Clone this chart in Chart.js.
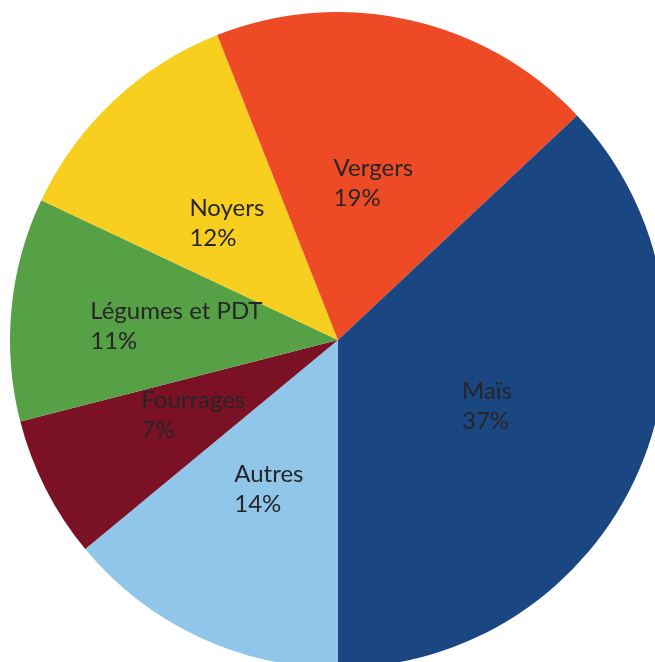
<!DOCTYPE html>
<html>
<head>
<meta charset="utf-8">
<script src="https://cdn.jsdelivr.net/npm/chart.js@4"></script>
<style>
  html, body { margin: 0; padding: 0; background: #ffffff; overflow: hidden; }
  #wrap { position: absolute; left: 0; top: 0; width: 676px; height: 680px; }
</style>
</head>
<body>
<div id="wrap"><canvas id="c" width="676" height="680"></canvas></div>
<script>
const categories = ["Autres", "Fourrages", "Légumes et PDT", "Noyers", "Vergers", "Maïs"];
const shares = [14, 7, 11, 12, 19, 37];
const percentLabels = ["14%", "7%", "11%", "12%", "19%", "37%"];
const colors = ["#8fc6ea", "#7b1124", "#56a046", "#f9cf1f", "#ee4a25", "#1a4682"];

const labelPlugin = {
  id: "sliceLabels",
  afterDatasetsDraw(chart) {
    const ctx = chart.ctx;
    const meta = chart.getDatasetMeta(0);
    ctx.save();
    ctx.font = "24px Lato, 'Open Sans', sans-serif";
    ctx.fillStyle = "#262626";
    ctx.textBaseline = "middle";
    ctx.textAlign = "left";
    meta.data.forEach((arc, i) => {
      const p = arc.getProps(["x", "y", "startAngle", "endAngle", "outerRadius"], true);
      const mid = (p.startAngle + p.endAngle) / 2;
      const r = p.outerRadius * 0.495;
      const cx = p.x + Math.cos(mid) * r;
      const cy = p.y + Math.sin(mid) * r;
      const l1 = categories[i], l2 = percentLabels[i];
      const w = Math.max(ctx.measureText(l1).width, ctx.measureText(l2).width);
      const left = cx - w / 2;
      ctx.fillText(l1, left, cy - 13);
      ctx.fillText(l2, left, cy + 17);
    });
    ctx.restore();
  }
};

new Chart(document.getElementById("c"), {
  type: "pie",
  data: {
    labels: categories,
    datasets: [{
      data: shares,
      backgroundColor: colors,
      borderWidth: 0
    }]
  },
  options: {
    responsive: false,
    animation: false,
    rotation: 180,
    layout: { padding: 10 },
    plugins: {
      legend: { display: false },
      tooltip: { enabled: false }
    }
  },
  plugins: [labelPlugin]
});
</script>
</body>
</html>
